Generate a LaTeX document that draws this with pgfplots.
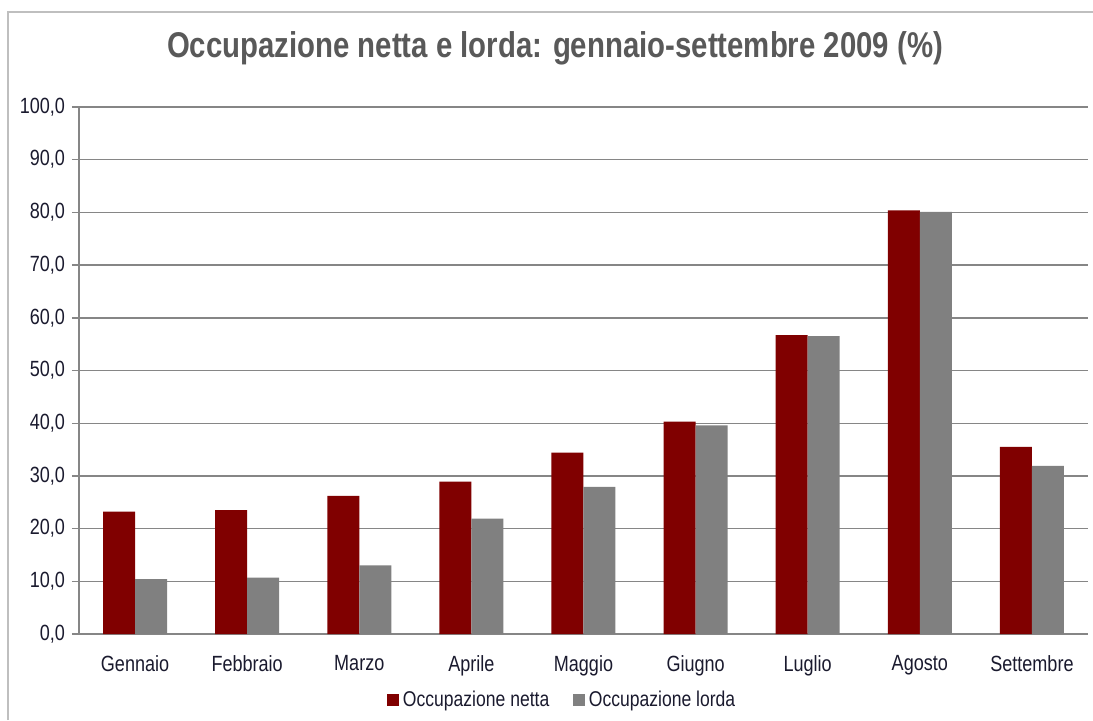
\documentclass[border=0pt]{standalone}
\usepackage{pgfplots}
\pgfplotsset{compat=1.18}
\usepackage{fontspec}
\setmainfont{Liberation Sans}[FakeStretch=0.82]
\definecolor{netta}{HTML}{800000}
\definecolor{lorda}{HTML}{808080}
\definecolor{gridc}{HTML}{868686}
\definecolor{titlec}{HTML}{595959}
\definecolor{framec}{HTML}{BFBFBF}
\definecolor{labc}{HTML}{1A1A2E}
\begin{document}
\begin{tikzpicture}
\path[use as bounding box] (0,0) rectangle (546.5pt,360pt);
\draw[framec,line width=1.2pt] (4pt,0pt) -- (4pt,354pt) -- (546.5pt,354pt);
\node[text=titlec,font=\bfseries\fontsize{17.9}{20}\selectfont] at (277.5pt,336pt) {Occupazione netta e lorda: gennaio-settembre 2009 (\%)};
\begin{axis}[
  at={(39.5pt,43pt)}, anchor=south west,
  scale only axis, width=504.5pt, height=263.5pt,
  ybar=0pt, bar width=16pt,
  xmin=-0.5, xmax=8.5, ymin=0, ymax=100,
  xtick={0,...,8},
  xticklabels={Gennaio,Febbraio,Marzo,Aprile,Maggio,Giugno,Luglio,Agosto,Settembre},
  major x tick style={draw=none},
  extra x ticks={-0.5,0.5,...,8.5},
  extra x tick labels={},
  extra x tick style={tick align=outside, major tick length=3.5pt, major tick style={draw=gridc, line width=0.7pt}, xmajorgrids=false},
  ytick={0,10,...,100},
  ymajorgrids, major grid style={draw=gridc, line width=0.7pt},
  tick align=outside, major tick length=3.5pt,
  major y tick style={draw=gridc, line width=0.7pt},
  axis x line*=bottom, axis y line*=left,
  axis line style={-, draw=gridc, line width=0.7pt},
  /pgf/number format/.cd, use comma, fixed, fixed zerofill, precision=1, assume math mode=true,
  /pgfplots/.cd,
  yticklabel style={font=\fontsize{11}{13}\selectfont, text=labc},
  xticklabel style={font=\fontsize{11}{13}\selectfont, text=labc, yshift=-3.7pt},
  legend style={at={(0.48,-0.125)}, anchor=center, draw=none, fill=none,
    legend columns=2, font=\fontsize{10.7}{12}\selectfont, text=labc,
    /tikz/every even column/.append style={column sep=10pt}},
  legend image code/.code={\fill[#1] (0pt,-2.9pt) rectangle (5.8pt,2.9pt);},
]
\addplot[fill=netta, draw=none] coordinates {(0,23.2) (1,23.5) (2,26.2) (3,28.9) (4,34.4) (5,40.3) (6,56.7) (7,80.4) (8,35.5)};
\addplot[fill=lorda, draw=none] coordinates {(0,10.4) (1,10.7) (2,13.0) (3,21.9) (4,27.9) (5,39.6) (6,56.5) (7,80.1) (8,31.9)};
\legend{Occupazione netta, Occupazione lorda}
\end{axis}
\end{tikzpicture}
\end{document}
